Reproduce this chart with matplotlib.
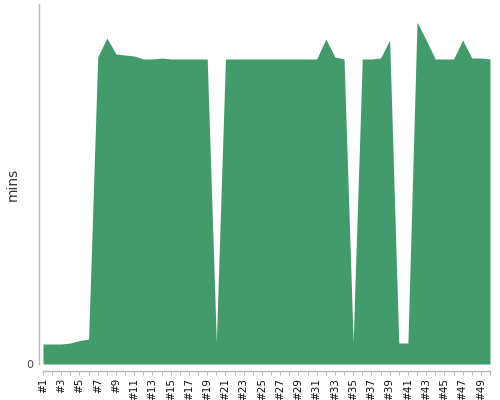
import matplotlib
matplotlib.use("Agg")
import matplotlib.pyplot as plt

labels = ["#%d" % i for i in range(1, 51)]
values = [2.0, 2.0, 2.0, 2.1, 2.35, 2.5, 30.7, 32.6, 31.0, 30.9,
          30.8, 30.5, 30.5, 30.6, 30.5, 30.5, 30.5, 30.5, 30.5, 2.2,
          30.5, 30.5, 30.5, 30.5, 30.5, 30.5, 30.5, 30.5, 30.5, 30.5,
          30.5, 32.5, 30.7, 30.5, 2.2, 30.5, 30.5, 30.6, 32.4, 2.1,
          2.1, 34.2, 32.4, 30.5, 30.5, 30.5, 32.4, 30.6, 30.6, 30.5]

x = list(range(1, len(values) + 1))
color = "#439b6b"

fig = plt.figure(figsize=(5, 4), dpi=100)
ax = fig.add_axes([0.086, 0.09, 0.894, 0.90])
ax.fill_between(x, 0, values, color=color, linewidth=0)
ax.set_xlim(1, 50)
ax.set_ylim(0, 36)

for s in ["top", "right"]:
    ax.spines[s].set_visible(False)
ax.spines["left"].set_position(("outward", 3))
ax.spines["bottom"].set_position(("outward", 5))
ax.spines["bottom"].set_bounds(1, 50)
for s in ["left", "bottom"]:
    ax.spines[s].set_color("#bbbbbb")
    ax.spines[s].set_linewidth(1)

ax.set_xticks(x)
ax.set_xticklabels([l if i % 2 == 0 else "" for i, l in enumerate(labels)],
                   rotation=90, fontsize=7.5, color="#111111")
ax.tick_params(axis="x", length=3, color="#bbbbbb", pad=2)
ax.set_yticks([0])
ax.set_yticklabels(["0"], fontsize=8, color="#444444")
ax.tick_params(axis="y", length=0, pad=4)
ax.set_ylabel("mins", fontsize=10, color="#333333", va="center")
ax.yaxis.set_label_coords(-0.067, 0.5)

fig.savefig("out.png", dpi=100)
